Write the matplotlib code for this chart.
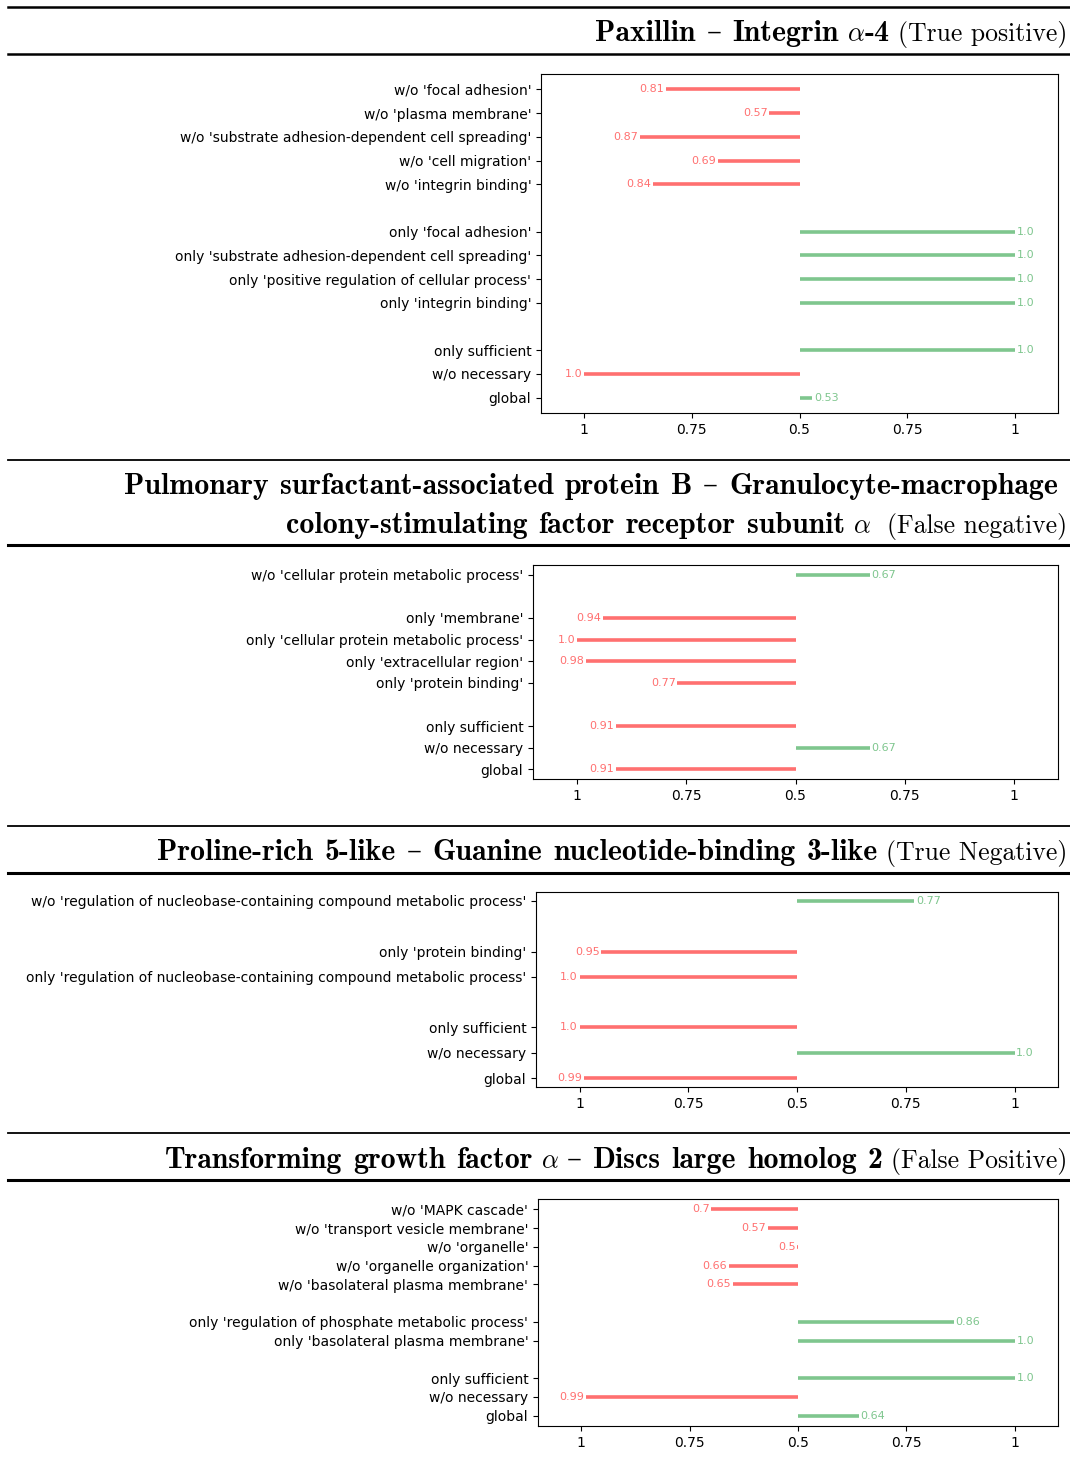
import matplotlib
matplotlib.use("Agg")
import matplotlib.pyplot as plt
from matplotlib.lines import Line2D

# ---------------------------------------------------------------- data
tick_values = [1, 0.75, 0.5, 0.75, 1]
tick_sides = [-1, -1, 0, 1, 1]

p1_labels = [
    "w/o 'focal adhesion'",
    "w/o 'plasma membrane'",
    "w/o 'substrate adhesion-dependent cell spreading'",
    "w/o 'cell migration'",
    "w/o 'integrin binding'",
    "only 'focal adhesion'",
    "only 'substrate adhesion-dependent cell spreading'",
    "only 'positive regulation of cellular process'",
    "only 'integrin binding'",
    "only sufficient",
    "w/o necessary",
    "global",
]
p1_values = [0.81, 0.57, 0.87, 0.69, 0.84, 1.0, 1.0, 1.0, 1.0, 1.0, 1.0, 0.53]
p1_sides = [-1, -1, -1, -1, -1, 1, 1, 1, 1, 1, -1, 1]
p1_groups = [5, 4, 3]

p2_labels = [
    "w/o 'cellular protein metabolic process'",
    "only 'membrane'",
    "only 'cellular protein metabolic process'",
    "only 'extracellular region'",
    "only 'protein binding'",
    "only sufficient",
    "w/o necessary",
    "global",
]
p2_values = [0.67, 0.94, 1.0, 0.98, 0.77, 0.91, 0.67, 0.91]
p2_sides = [1, -1, -1, -1, -1, -1, 1, -1]
p2_groups = [1, 4, 3]

p3_labels = [
    "w/o 'regulation of nucleobase-containing compound metabolic process'",
    "only 'protein binding'",
    "only 'regulation of nucleobase-containing compound metabolic process'",
    "only sufficient",
    "w/o necessary",
    "global",
]
p3_values = [0.77, 0.95, 1.0, 1.0, 1.0, 0.99]
p3_sides = [1, -1, -1, -1, 1, -1]
p3_groups = [1, 2, 3]

p4_labels = [
    "w/o 'MAPK cascade'",
    "w/o 'transport vesicle membrane'",
    "w/o 'organelle'",
    "w/o 'organelle organization'",
    "w/o 'basolateral plasma membrane'",
    "only 'regulation of phosphate metabolic process'",
    "only 'basolateral plasma membrane'",
    "only sufficient",
    "w/o necessary",
    "global",
]
p4_values = [0.7, 0.57, 0.502, 0.66, 0.65, 0.86, 1.0, 1.0, 0.99, 0.64]
p4_sides = [-1, -1, -1, -1, -1, 1, 1, 1, -1, 1]
p4_groups = [5, 2, 3]

# ---------------------------------------------------------------- style
W, H = 1070, 1466
RED = "#ff7070"
GREEN = "#7fc68e"
plt.rcParams["mathtext.fontset"] = "cm"
plt.rcParams["font.family"] = ["DejaVu Sans"]

BOLD = dict(family=["cmb10", "DejaVu Serif"], fontsize=21.5)
REG = dict(family=["cmr10", "DejaVu Serif"], fontsize=18.5)
MATH = dict(fontsize=19)
SP = 8        # gap between pieces, pixels
BOLD_SP = 11  # gap between bold words, pixels

fig = plt.figure(figsize=(W / 100, H / 100), dpi=100)
renderer = fig.canvas.get_renderer()


def add_axes(left, top, right, bottom):
    return fig.add_axes([left / W, 1 - bottom / H, (right - left) / W, (bottom - top) / H])


def draw_panel(ax, labels, values, sides, groups):
    ys = []
    pos = 0
    for g in groups:
        for _ in range(g):
            ys.append(pos)
            pos += 1
        pos += 1
    for y, v, s in zip(ys, values, sides):
        x = s * (v - 0.5)
        c = GREEN if s > 0 else RED
        ax.hlines(y, 0, x, colors=c, linewidth=2.6)
        ax.annotate(f"{round(v, 2)}", xy=(x, y), xytext=(1.2 * s, 0),
                    textcoords="offset points",
                    ha="left" if s > 0 else "right", va="center",
                    color=c, fontsize=8)
    ax.set_yticks(ys, labels)
    ax.set_xticks([s * (t - 0.5) for t, s in zip(tick_values, tick_sides)],
                  [f"{t:g}" for t in tick_values])
    ax.set_xlim(-0.6, 0.6)
    n = ys[-1]
    ax.set_ylim(n + 0.05 * n, -0.05 * n)
    ax.tick_params(labelsize=10)


def title_rule(y, lw):
    fig.add_artist(Line2D([8 / W, 1.0], [1 - y / H] * 2, color="black", lw=lw))


def draw_title(x_right, y_base, pieces):
    """Lay out (text, style, gap_after) pieces right-to-left on one baseline."""
    words = []
    for text, style, gap in pieces:
        if style is BOLD:
            parts = text.split(" ")
            for i, w in enumerate(parts):
                words.append((w, style, gap if i == len(parts) - 1 else BOLD_SP))
        else:
            words.append((text, style, gap))
    x = x_right
    for text, style, gap in reversed(words):
        x -= gap
        t = fig.text(x / W, 1 - y_base / H, text, ha="right", va="baseline", **style)
        bb = t.get_window_extent(renderer)
        x = bb.x0


# ---------------------------------------------------------------- panel 1
title_rule(7, 1.8)
draw_title(1067, 41, [("Paxillin – Integrin", BOLD, SP), (r"$\alpha$", MATH, 0),
                      ("-4", BOLD, SP), ("(True positive)", REG, 0)])
title_rule(54, 1.8)
ax1 = add_axes(541, 74, 1058, 413)
draw_panel(ax1, p1_labels, p1_values, p1_sides, p1_groups)

# ---------------------------------------------------------------- panel 2
title_rule(460, 1.3)
draw_title(1058, 494, [("Pulmonary surfactant-associated protein B – Granulocyte-macrophage", BOLD, 0)])
draw_title(1067, 533, [("colony-stimulating factor receptor subunit", BOLD, SP),
                       (r"$\alpha$", MATH, 2 * SP), ("(False negative)", REG, 0)])
title_rule(545, 2.2)
ax2 = add_axes(533, 565, 1058, 779)
draw_panel(ax2, p2_labels, p2_values, p2_sides, p2_groups)

# ---------------------------------------------------------------- panel 3
title_rule(826, 1.3)
draw_title(1067, 860, [("Proline-rich 5-like – Guanine nucleotide-binding 3-like", BOLD, SP),
                       ("(True Negative)", REG, 0)])
title_rule(873, 2.2)
ax3 = add_axes(536, 892, 1058, 1087)
draw_panel(ax3, p3_labels, p3_values, p3_sides, p3_groups)

# ---------------------------------------------------------------- panel 4
title_rule(1133, 1.3)
draw_title(1067, 1168, [("Transforming growth factor", BOLD, SP), (r"$\alpha$", MATH, SP),
                        ("– Discs large homolog 2", BOLD, SP), ("(False Positive)", REG, 0)])
title_rule(1180, 2.2)
ax4 = add_axes(538, 1199, 1058, 1426)
draw_panel(ax4, p4_labels, p4_values, p4_sides, p4_groups)

fig.savefig("out.png", dpi=100)
